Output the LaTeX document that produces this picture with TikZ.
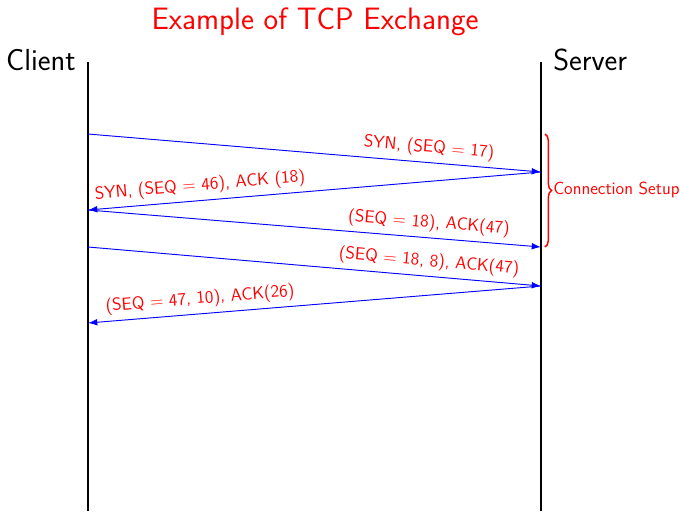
\documentclass[tikz,border=0pt]{standalone}
\usetikzlibrary{arrows.meta,decorations.pathreplacing}
\begin{document}
\begin{tikzpicture}[x=0.75pt,y=-0.75pt,
  every node/.style={font=\sffamily},
  lifeline/.style={line width=1.4pt},
  msg/.style={blue, line width=0.7pt, -{Latex[length=7pt,width=5pt]}},
  lbl/.style={red, font=\sffamily\fontsize{13.1}{15}\selectfont, sloped, above, pos=0.75, inner sep=4pt},
  actor/.style={font=\sffamily\fontsize{22.8}{26}\selectfont, inner sep=0pt}]
\useasboundingbox (0,0) rectangle (680,511);
\node[red, font=\sffamily\fontsize{23.2}{26}\selectfont, anchor=base, inner sep=0pt] (title) at (315,29) {Example of TCP Exchange};
\node[actor, anchor=base east] (client) at (76,70) {Client};
\node[actor, anchor=base west] (server) at (553,70) {Server};
\coordinate (ctop) at (88,62); \coordinate (cbot) at (88,511);
\coordinate (stop) at (541,62); \coordinate (sbot) at (541,511);
\draw[lifeline] (ctop) -- (cbot);
\draw[lifeline] (stop) -- (sbot);
\coordinate (c1) at (88,134); \coordinate (s1) at (541,172);
\coordinate (c2) at (88,210); \coordinate (s2) at (541,247);
\coordinate (c3) at (88,247); \coordinate (s3) at (541,286);
\coordinate (c4) at (88,323);
\draw[msg] (c1) -- node[lbl] {SYN, (SEQ = 17)} (s1);
\draw[msg] (s1) -- node[lbl] {SYN, (SEQ = 46), ACK (18)} (c2);
\draw[msg] (c2) -- node[lbl] {(SEQ = 18), ACK(47)} (s2);
\draw[msg] (c3) -- node[lbl] {(SEQ = 18, 8), ACK(47)} (s3);
\draw[msg] (s3) -- node[lbl] {(SEQ = 47, 10), ACK(26)} (c4);
\coordinate (b1) at (545,134); \coordinate (b2) at (545,247);
\draw[red, line width=1.1pt, decorate, decoration={brace, amplitude=5pt}] (b1) -- (b2);
\node[red, font=\sffamily\fontsize{13.1}{15}\selectfont, anchor=west, inner sep=0pt] (setup) at (553,190) {Connection Setup};
\end{tikzpicture}
\end{document}
